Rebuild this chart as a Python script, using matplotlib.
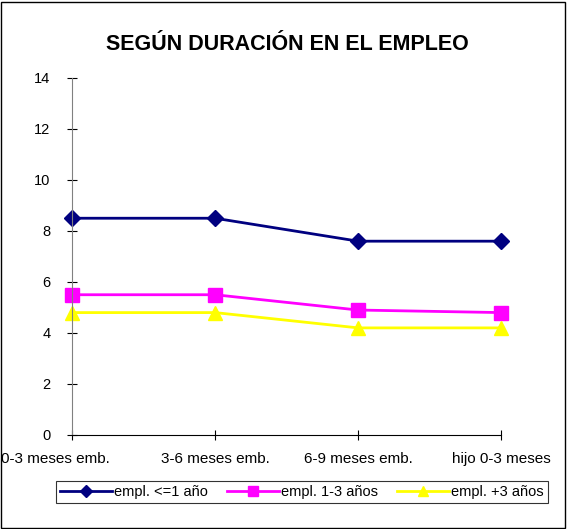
import matplotlib
matplotlib.use('Agg')
import matplotlib.pyplot as plt
import matplotlib.transforms as mtransforms
from matplotlib.patches import Rectangle

categorias = ['0-3 meses emb.', '3-6 meses emb.', '6-9 meses emb.', 'hijo 0-3 meses']
empl_menos1 = [8.5, 8.5, 7.6, 7.6]
empl_1a3 = [5.5, 5.5, 4.9, 4.8]
empl_mas3 = [4.8, 4.8, 4.2, 4.2]
etiquetas = ['empl. <=1 año', 'empl. 1-3 años', 'empl. +3 años']

plt.rcParams['font.family'] = ['Liberation Sans', 'DejaVu Sans']

fig = plt.figure(figsize=(5.67, 5.29), dpi=100)
fig.patches.append(Rectangle((0.002, 0.002), 0.995, 0.995, transform=fig.transFigure,
                             fill=False, edgecolor='black', linewidth=1.0))
ax = fig.add_axes([0.127, 0.1777, 0.757, 0.6749])

x = range(len(categorias))
ax.plot(x, empl_menos1, color='#000080', marker='D', markersize=8, linewidth=2, label=etiquetas[0], clip_on=False)
ax.plot(x, empl_1a3, color='#FF00FF', marker='s', markersize=10, linewidth=2, label=etiquetas[1], clip_on=False)
ax.plot(x, empl_mas3, color='#FFFF00', marker='^', markersize=10, linewidth=2, label=etiquetas[2], clip_on=False)

ax.set_xlim(0, 3)
ax.set_ylim(0, 14)
ax.set_yticks(range(0, 15, 2))
ax.set_xticks(list(x))
ax.set_xticklabels(categorias)
ax.spines['top'].set_visible(False)
ax.spines['right'].set_visible(False)
ax.spines['left'].set_color('#808080')
ax.tick_params(axis='both', direction='inout', length=7, labelsize=10.5)
ax.tick_params(axis='x', labelsize=11, pad=9)
ax.tick_params(axis='y', pad=12)

# la primera etiqueta queda desplazada a la izquierda, como en el original
primera = ax.get_xticklabels()[0]
primera.set_transform(primera.get_transform() + mtransforms.ScaledTranslation(-17 / 100, 0, fig.dpi_scale_trans))

fig.text(0.507, 0.915, 'SEGÚN DURACIÓN EN EL EMPLEO', ha='center', va='center',
         fontsize=15.5, fontweight='bold')

leg = fig.legend(loc='center', bbox_to_anchor=(0.532, 0.070), ncol=3, fontsize=10.5,
                 frameon=True, fancybox=False, edgecolor='black', handlelength=3.6,
                 columnspacing=1.3, handletextpad=0.1, borderpad=0.3, markerscale=0.75)
leg.get_frame().set_linewidth(0.8)

fig.savefig('out.png', dpi=100)
